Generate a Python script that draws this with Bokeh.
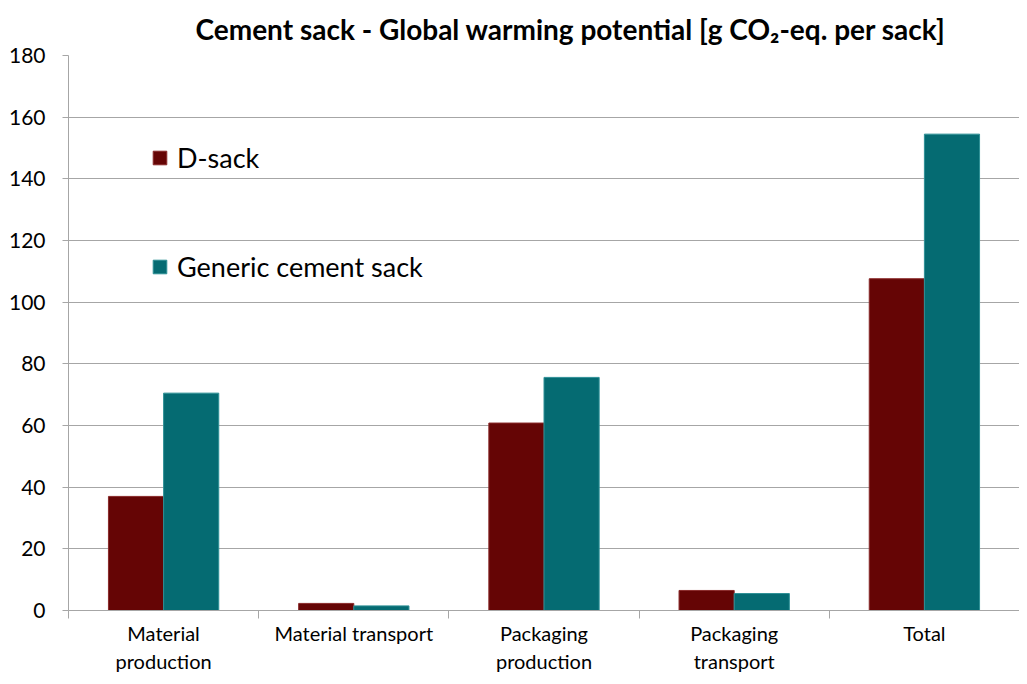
from bokeh.plotting import figure
from bokeh.models import (Range1d, LinearAxis, FixedTicker, Legend, LegendItem, ColumnDataSource)
from bokeh.transform import dodge
from bokeh.embed import file_html
from bokeh.resources import INLINE

# ---- data ----
categories = ["Material production", "Material transport", "Packaging production",
              "Packaging transport", "Total"]
category_labels = ["Material\nproduction", "Material transport", "Packaging\nproduction",
                   "Packaging\ntransport", "Total"]
d_sack = [37.0, 2.3, 60.8, 6.5, 107.6]
generic_sack = [70.5, 1.5, 75.6, 5.5, 154.5]
series_names = ["D-sack", "Generic cement sack"]
y_ticks = [0, 20, 40, 60, 80, 100, 120, 140, 160, 180]
title_text = "Cement sack - Global warming potential [g CO\u2082-eq. per sack]"

FONT = "Lato"
D_FILL, D_LINE = "#650505", "#8a2a2a"
G_FILL, G_LINE = "#056b72", "#2e9096"

n = len(categories)
centers = [i + 0.5 for i in range(n)]          # category slot centres
boundaries = [float(i) for i in range(n + 1)]  # category slot edges

src = ColumnDataSource(dict(cat=categories, xc=centers, d=d_sack, g=generic_sack))

p = figure(x_range=Range1d(0, n), y_range=Range1d(0, 180),
           width=1019, height=676,
           output_backend="svg", toolbar_location=None,
           x_axis_location=None,
           min_border_left=68, min_border_right=0, min_border_top=0, min_border_bottom=0)

p.title.text = title_text
p.title.text_font = FONT
p.title.text_font_size = "28px"
p.title.text_font_style = "bold"
p.title.text_color = "black"
p.title.align = "left"
p.title.offset = 127
p.title.standoff = 19

p.outline_line_color = None
p.xgrid.visible = False
p.ygrid.grid_line_color = "#a6a6a6"
p.ygrid.grid_line_width = 1

# y axis
p.yaxis.ticker = FixedTicker(ticks=y_ticks)
p.yaxis.axis_line_color = "#a6a6a6"
p.yaxis.major_tick_line_color = "#a6a6a6"
p.yaxis.major_tick_in = 0
p.yaxis.major_tick_out = 6
p.yaxis.minor_tick_line_color = None
p.yaxis.major_label_text_font = FONT
p.yaxis.major_label_text_font_size = "21px"
p.yaxis.major_label_text_color = "black"
p.yaxis.major_label_standoff = 17

# bars
r1 = p.vbar(x=dodge("xc", -0.145), top="d", width=0.29, source=src,
            fill_color=D_FILL, line_color=D_LINE, line_width=1)
r2 = p.vbar(x=dodge("xc", 0.145), top="g", width=0.29, source=src,
            fill_color=G_FILL, line_color=G_LINE, line_width=1)

# x axis: labels at slot centres, small separator ticks at slot edges
x_axis = LinearAxis(ticker=FixedTicker(ticks=centers, minor_ticks=boundaries))
x_axis.axis_line_color = "#a6a6a6"
x_axis.major_tick_line_color = None
x_axis.minor_tick_line_color = "#a6a6a6"
x_axis.minor_tick_in = 0
x_axis.minor_tick_out = 8
x_axis.major_tick_in = 0
x_axis.major_tick_out = 8
x_axis.major_label_text_font = FONT
x_axis.major_label_text_font_size = "20px"
x_axis.major_label_text_color = "black"
x_axis.major_label_standoff = 2
x_axis.major_label_overrides = dict(zip(centers, category_labels))
p.add_layout(x_axis, "below")

legend = Legend(items=[LegendItem(label=series_names[0], renderers=[r1]),
                       LegendItem(label=series_names[1], renderers=[r2])],
                location=(83, 327),
                label_text_font=FONT, label_text_font_size="27px", label_text_color="black",
                glyph_width=17, glyph_height=17, spacing=76, label_standoff=9,
                background_fill_alpha=0, border_line_alpha=0, padding=0, margin=0)
p.add_layout(legend)

open("out.html", "w").write(file_html(p, INLINE))
